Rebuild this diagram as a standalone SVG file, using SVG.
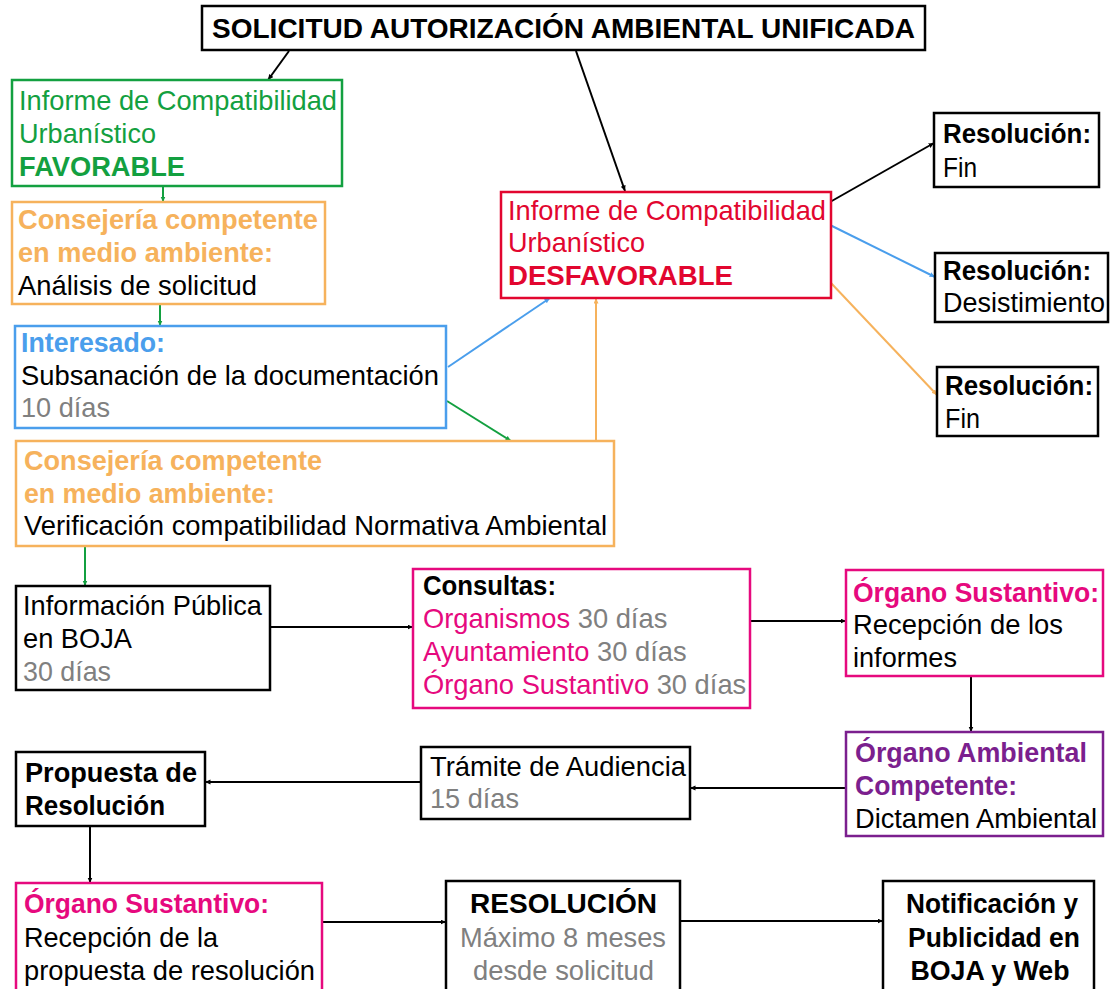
<svg xmlns="http://www.w3.org/2000/svg" width="1110" height="989" viewBox="0 0 1110 989">
<style>
text{font-family:"Liberation Sans",Arial,sans-serif;font-size:27.3px;fill:#000}
.b{font-weight:bold}
.box{fill:#fff;stroke-width:2.5}
.k{stroke:#000}.g{stroke:#13a040}.o{stroke:#f6b25c}.bl{stroke:#4a9eec}.r{stroke:#e2062f}.p{stroke:#e6097e}.pu{stroke:#7b1f8e}
.tg{fill:#13a040}.to{fill:#f6b25c}.tb{fill:#4a9eec}.tr{fill:#e2062f}.tp{fill:#e6097e}.tpu{fill:#7b1f8e}.gr{fill:#808080}
.c line{stroke-width:2;fill:none}
</style>
<defs>
<marker id="ak" markerWidth="6" markerHeight="6" refX="5.5" refY="2.5" orient="auto" markerUnits="userSpaceOnUse"><path d="M0,0L5.5,2.5L0,5z" fill="#000"/></marker>
<marker id="ag" markerWidth="6" markerHeight="6" refX="5.5" refY="2.5" orient="auto" markerUnits="userSpaceOnUse"><path d="M0,0L5.5,2.5L0,5z" fill="#13a040"/></marker>
<marker id="ab" markerWidth="6" markerHeight="6" refX="5.5" refY="2.5" orient="auto" markerUnits="userSpaceOnUse"><path d="M0,0L5.5,2.5L0,5z" fill="#4a9eec"/></marker>
<marker id="ao" markerWidth="6" markerHeight="6" refX="5.5" refY="2.5" orient="auto" markerUnits="userSpaceOnUse"><path d="M0,0L5.5,2.5L0,5z" fill="#f6b25c"/></marker>
</defs>
<rect width="1110" height="989" fill="#fff"/>
<g class="c" id="connectors">
<line x1="289" y1="51" x2="268" y2="80" class="k" marker-end="url(#ak)"/>
<line x1="576" y1="51" x2="625" y2="191" class="k" marker-end="url(#ak)"/>
<line x1="163" y1="186" x2="163" y2="202" class="g" marker-end="url(#ag)"/>
<line x1="160" y1="304" x2="160" y2="326" class="g" marker-end="url(#ag)"/>
<line x1="447" y1="401" x2="511" y2="441" class="g" marker-end="url(#ag)"/>
<line x1="448" y1="367" x2="550" y2="298" class="bl" marker-end="url(#ab)"/>
<line x1="596" y1="441" x2="596" y2="298" class="o" marker-end="url(#ao)"/>
<line x1="830" y1="202" x2="934" y2="143" class="k" marker-end="url(#ak)"/>
<line x1="830" y1="225" x2="935" y2="277" class="bl" marker-end="url(#ab)"/>
<line x1="831" y1="283" x2="937" y2="395" class="o" marker-end="url(#ao)"/>
<line x1="85" y1="546" x2="85" y2="586" class="g" marker-end="url(#ag)"/>
<line x1="270" y1="627" x2="413" y2="627" class="k" marker-end="url(#ak)"/>
<line x1="750" y1="621" x2="846" y2="621" class="k" marker-end="url(#ak)"/>
<line x1="971" y1="676" x2="971" y2="732" class="k" marker-end="url(#ak)"/>
<line x1="846" y1="788" x2="690" y2="788" class="k" marker-end="url(#ak)"/>
<line x1="421" y1="782" x2="205" y2="782" class="k" marker-end="url(#ak)"/>
<line x1="90" y1="826" x2="90" y2="883" class="k" marker-end="url(#ak)"/>
<line x1="322" y1="922" x2="446" y2="922" class="k" marker-end="url(#ak)"/>
<line x1="680" y1="921" x2="883" y2="921" class="k" marker-end="url(#ak)"/>
</g>
<g id="title"><rect class="box k" x="202" y="6" width="723" height="44"/><text x="563.5" y="38" class="b" text-anchor="middle" font-size="26.5" textLength="703" lengthAdjust="spacingAndGlyphs">SOLICITUD AUTORIZACIÓN AMBIENTAL UNIFICADA</text></g>
<g id="favorable"><rect class="box g" x="12" y="80" width="330" height="106"/><text x="19" y="110" class="tg" textLength="318" lengthAdjust="spacingAndGlyphs">Informe de Compatibilidad</text><text x="19" y="143" class="tg" textLength="137" lengthAdjust="spacingAndGlyphs">Urbanístico</text><text x="19" y="176" class="tg b" textLength="166" lengthAdjust="spacingAndGlyphs">FAVORABLE</text></g>
<g id="consejeria1"><rect class="box o" x="12" y="202" width="313" height="102"/><text x="18" y="229" class="to b" textLength="300" lengthAdjust="spacingAndGlyphs">Consejería competente</text><text x="18" y="262" class="to b" textLength="255" lengthAdjust="spacingAndGlyphs">en medio ambiente:</text><text x="18" y="295" textLength="239" lengthAdjust="spacingAndGlyphs">Análisis de solicitud</text></g>
<g id="interesado"><rect class="box bl" x="15" y="326" width="431" height="102"/><text x="21" y="352" class="tb b" textLength="144" lengthAdjust="spacingAndGlyphs">Interesado:</text><text x="21" y="385" textLength="418" lengthAdjust="spacingAndGlyphs">Subsanación de la documentación</text><text x="21" y="417" class="gr" textLength="89" lengthAdjust="spacingAndGlyphs">10 días</text></g>
<g id="consejeria2"><rect class="box o" x="16" y="441" width="598" height="105"/><text x="24" y="470" class="to b" textLength="298" lengthAdjust="spacingAndGlyphs">Consejería competente</text><text x="24" y="503" class="to b" textLength="251" lengthAdjust="spacingAndGlyphs">en medio ambiente:</text><text x="24" y="535" textLength="583" lengthAdjust="spacingAndGlyphs">Verificación compatibilidad Normativa Ambiental</text></g>
<g id="desfavorable"><rect class="box r" x="501" y="192" width="330" height="106"/><text x="508" y="220" class="tr" textLength="318" lengthAdjust="spacingAndGlyphs">Informe de Compatibilidad</text><text x="508" y="252" class="tr" textLength="137" lengthAdjust="spacingAndGlyphs">Urbanístico</text><text x="508" y="285" class="tr b" textLength="225" lengthAdjust="spacingAndGlyphs">DESFAVORABLE</text></g>
<g id="res-fin1"><rect class="box k" x="934" y="113" width="165" height="74"/><text x="943" y="143" class="b" font-size="26" textLength="148" lengthAdjust="spacingAndGlyphs">Resolución:</text><text x="943" y="177" textLength="34" lengthAdjust="spacingAndGlyphs">Fin</text></g>
<g id="res-desist"><rect class="box k" x="935" y="253" width="173" height="69"/><text x="943" y="280" class="b" font-size="26" textLength="148" lengthAdjust="spacingAndGlyphs">Resolución:</text><text x="943" y="312" textLength="162" lengthAdjust="spacingAndGlyphs">Desistimiento</text></g>
<g id="res-fin2"><rect class="box k" x="937" y="367" width="161" height="69"/><text x="945" y="395" class="b" font-size="26" textLength="148" lengthAdjust="spacingAndGlyphs">Resolución:</text><text x="945" y="428" textLength="35" lengthAdjust="spacingAndGlyphs">Fin</text></g>
<g id="info-publica"><rect class="box k" x="16" y="586" width="254" height="104"/><text x="23" y="615" textLength="239" lengthAdjust="spacingAndGlyphs">Información Pública</text><text x="23" y="648" textLength="109" lengthAdjust="spacingAndGlyphs">en BOJA</text><text x="23" y="681" class="gr" textLength="88" lengthAdjust="spacingAndGlyphs">30 días</text></g>
<g id="consultas"><rect class="box p" x="413" y="569" width="337" height="139"/><text x="423" y="595" class="b" font-size="26" textLength="133" lengthAdjust="spacingAndGlyphs">Consultas:</text><text x="423" y="628"><tspan class="tp">Organismos</tspan><tspan class="gr"> 30 días</tspan></text><text x="423" y="661"><tspan class="tp">Ayuntamiento</tspan><tspan class="gr"> 30 días</tspan></text><text x="423" y="694"><tspan class="tp">Órgano Sustantivo</tspan><tspan class="gr"> 30 días</tspan></text></g>
<g id="organo-sustantivo"><rect class="box p" x="846" y="570" width="257" height="106"/><text x="853" y="602" class="tp b" font-size="26.6" textLength="246" lengthAdjust="spacingAndGlyphs">Órgano Sustantivo:</text><text x="853" y="634" textLength="210" lengthAdjust="spacingAndGlyphs">Recepción de los</text><text x="853" y="667" textLength="104" lengthAdjust="spacingAndGlyphs">informes</text></g>
<g id="organo-ambiental"><rect class="box pu" x="846" y="732" width="257" height="104"/><text x="855" y="762" class="tpu b" font-size="26.9" textLength="232" lengthAdjust="spacingAndGlyphs">Órgano Ambiental</text><text x="855" y="795" class="tpu b" font-size="26.6" textLength="162" lengthAdjust="spacingAndGlyphs">Competente:</text><text x="855" y="828" textLength="242" lengthAdjust="spacingAndGlyphs">Dictamen Ambiental</text></g>
<g id="tramite"><rect class="box k" x="421" y="747" width="269" height="72"/><text x="430" y="776" textLength="256" lengthAdjust="spacingAndGlyphs">Trámite de Audiencia</text><text x="430" y="808" class="gr" textLength="89" lengthAdjust="spacingAndGlyphs">15 días</text></g>
<g id="propuesta"><rect class="box k" x="16" y="752" width="189" height="74"/><text x="25" y="782" class="b" font-size="27" textLength="172" lengthAdjust="spacingAndGlyphs">Propuesta de</text><text x="25" y="815" class="b" font-size="27" textLength="140" lengthAdjust="spacingAndGlyphs">Resolución</text></g>
<g id="organo-sustantivo2"><rect class="box p" x="16" y="883" width="306" height="110"/><text x="24" y="913" class="tp b" font-size="26.5" textLength="245" lengthAdjust="spacingAndGlyphs">Órgano Sustantivo:</text><text x="24" y="947" textLength="194" lengthAdjust="spacingAndGlyphs">Recepción de la</text><text x="24" y="980" textLength="291" lengthAdjust="spacingAndGlyphs">propuesta de resolución</text></g>
<g id="resolucion"><rect class="box k" x="446" y="881" width="234" height="112"/><text x="563.5" y="913" class="b" text-anchor="middle" textLength="187" lengthAdjust="spacingAndGlyphs">RESOLUCIÓN</text><text x="563" y="947" class="gr" text-anchor="middle" textLength="206" lengthAdjust="spacingAndGlyphs">Máximo 8 meses</text><text x="563.5" y="980" class="gr" text-anchor="middle" textLength="181" lengthAdjust="spacingAndGlyphs">desde solicitud</text></g>
<g id="notificacion"><rect class="box k" x="883" y="881" width="211" height="112"/><text x="992" y="913" class="b" text-anchor="middle" font-size="26.5" textLength="172" lengthAdjust="spacingAndGlyphs">Notificación y</text><text x="994" y="947" class="b" text-anchor="middle" font-size="26.5" textLength="172" lengthAdjust="spacingAndGlyphs">Publicidad en</text><text x="990" y="980" class="b" text-anchor="middle" font-size="26.5" textLength="159" lengthAdjust="spacingAndGlyphs">BOJA y Web</text></g>
</svg>
